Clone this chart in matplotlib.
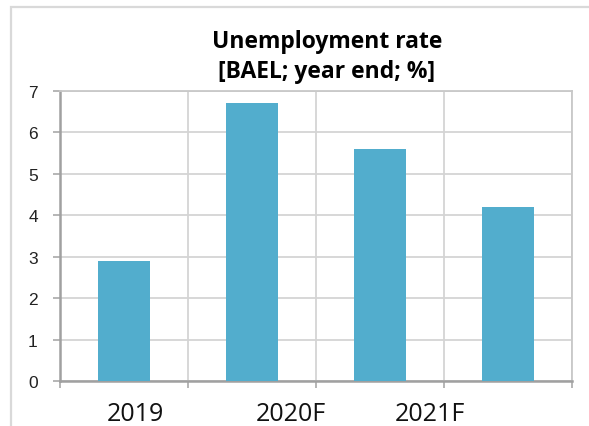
import numpy as np
import matplotlib.pyplot as plt
from matplotlib.patches import Rectangle

# unemployment rate, year end, %
rates = [2.9, 6.7, 5.6, 4.2]
year_labels = ["2019", "2020F", "2021F"]
label_pos = [0.09, 1.30, 2.39]

fig = plt.figure(figsize=(5.89, 4.27), dpi=100)
fig.patch.set_facecolor("white")

# light frame around the chart box (runs off the right and bottom edges)
fig.patches.append(Rectangle((11 / 589, -0.5), 2.0, 1.5 - 8 / 427,
                             transform=fig.transFigure, fill=False,
                             edgecolor="#d9d9d9", lw=1.6, zorder=0))

ax = fig.add_axes([60 / 589, 1 - 382 / 427, 512 / 589, 290 / 427])

x = np.arange(len(rates))
ax.bar(x, rates, width=0.4, color="#52adcd", zorder=3)

ax.set_xlim(-0.5, len(rates) - 0.5)
ax.set_ylim(0, 7)
ax.set_yticks(range(0, 8))
ax.set_xticks(np.arange(-0.5, len(rates)))
ax.set_xticklabels([])
ax.tick_params(axis="y", length=5, width=1.3, color="#b0b0b0", labelsize=12.5,
               pad=11, labelcolor="#222222")
ax.tick_params(axis="x", length=5, width=1.3, color="#b0b0b0")
for lbl in ax.get_yticklabels():
    lbl.set_family("Liberation Sans")

ax.grid(True, color="#d4d4d4", lw=1.3, zorder=0)
for side in ["top", "right"]:
    ax.spines[side].set_color("#c8c8c8")
    ax.spines[side].set_linewidth(1.3)
for side in ["left", "bottom"]:
    ax.spines[side].set_color("#a0a0a0")
    ax.spines[side].set_linewidth(1.8)

for pos, lab in zip(label_pos, year_labels):
    ax.text(pos, -0.78, lab, ha="center", va="center", fontsize=18,
            family="Open Sans", color="#111111")

fig.text(327 / 589, 1 - 57 / 427, "Unemployment rate\n[BAEL; year end; %]",
         ha="center", va="center", fontsize=16.5, fontweight="bold",
         family="Open Sans", linespacing=1.3)

fig.savefig("out.png", dpi=100)
